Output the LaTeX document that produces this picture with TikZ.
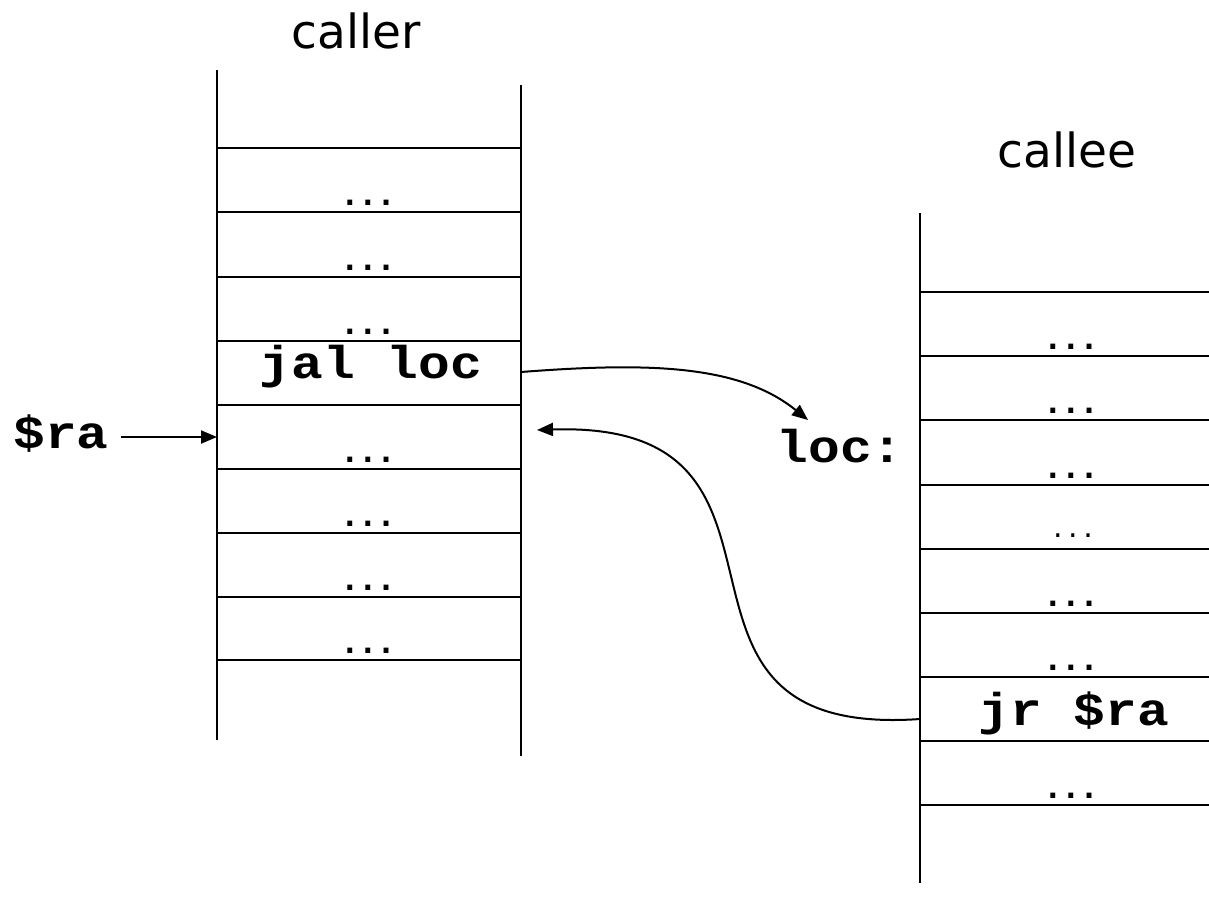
\documentclass[tikz,border=0pt]{standalone}
\usepackage{fontspec}
\setmainfont{DejaVu Sans}
\newfontfamily\codefont{Liberation Mono}[FakeStretch=1.15]
\newfontfamily\dotfont{DejaVu Sans Mono}
\usetikzlibrary{arrows.meta}
\begin{document}
\begin{tikzpicture}[x=1pt,y=-1pt,
  frame/.style={line width=2.4pt},
  link/.style={line width=2pt,-{Triangle[length=16pt,width=13pt]}},
  title/.style={font=\fontsize{47}{50}\selectfont,anchor=base,inner sep=0pt},
  code/.style={font=\codefont\bfseries\fontsize{46}{50}\selectfont,anchor=base,inner sep=0pt},
  dots/.style={font=\dotfont\bfseries\fontsize{30}{34}\selectfont,anchor=base,inner sep=0pt},
  thindots/.style={font=\dotfont\fontsize{25}{28}\selectfont,anchor=base,inner sep=0pt}]
\useasboundingbox (0,0) rectangle (1209,898);

% caller memory column
\draw[frame] (217,70) -- (217,740);
\draw[frame] (521,85) -- (521,756);
\foreach \y in {148,212,277,341,405,469,533,597,660}
  \draw[frame] (217,\y) -- (521,\y);

% callee memory column
\draw[frame] (920,213) -- (920,883);
\foreach \y in {292,356,420,485,549,613,677,741,805}
  \draw[frame] (920,\y) -- (1209,\y);

% titles
\node[title] (callerT) at (356,48) {caller};
\node[title] (calleeT) at (1067,167) {callee};

% caller contents
\foreach \y/\n in {205/a1,270/a2,334/a3,462/a5,526/a6,590/a7,653/a8}
  \node[dots] (\n) at (368,\y) {...};
\node[code] (jal) at (371,378) {jal loc};

% callee contents
\foreach \y/\n in {349/b1,413/b2,478/b3,606/b5,670/b6,798/b8}
  \node[dots] (\n) at (1071,\y) {...};
\node[thindots] (b4) at (1073,537) {...};
\node[code] (jr) at (1074,725) {jr \$ra};

% labels
\node[code] (loc) at (840,462) {loc:};
\node[code] (ra) at (61,448) {\$ra};

% connector end points
\coordinate (raIn) at (217,437);
\coordinate (jalOut) at (521,372);
\coordinate (locIn) at (808,420);
\coordinate (jrOut) at (920,719);
\coordinate (retIn) at (537,430);

% return address pointer
\draw[link,shorten <=12pt] (ra.east |- raIn) -- (raIn);

% call and return
\draw[link] (jalOut) .. controls (650,362) and (740,365) .. (locIn);
\draw[link] (jrOut) .. controls (620,740) and (840,420) .. (retIn);
\end{tikzpicture}
\end{document}
